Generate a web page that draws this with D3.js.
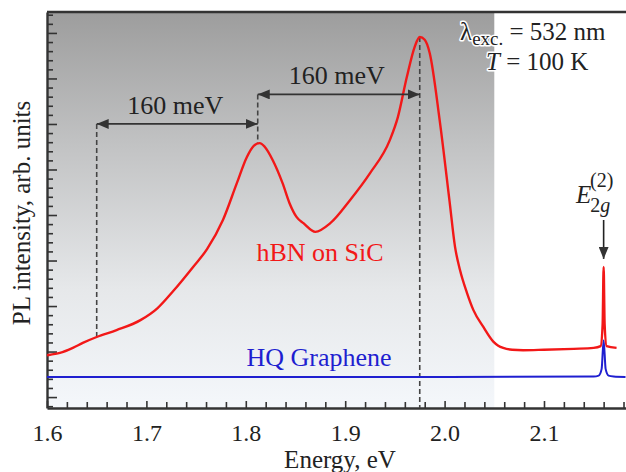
<!DOCTYPE html>
<html>
<head>
<meta charset="utf-8">
<script src="https://cdn.jsdelivr.net/npm/d3@7"></script>
<style>
  body { margin: 0; background: #fff; }
  svg text { font-family: "Liberation Serif", "Times New Roman", "DejaVu Serif", serif; }
</style>
</head>
<body>
<svg id="chart" width="626" height="472" font-family="Liberation Serif, serif"></svg>
<script>
// hBN on SiC PL spectrum (energy eV, intensity arb.)
const hbnEnergy = [1.600, 1.603, 1.613, 1.626, 1.636, 1.650, 1.670, 1.694, 1.711, 1.727,
  1.747, 1.761, 1.777, 1.791, 1.801, 1.808, 1.814, 1.819, 1.827, 1.837, 1.844, 1.851, 1.858,
  1.870, 1.885, 1.905, 1.925, 1.945, 1.953, 1.962, 1.970, 1.975, 1.980, 1.985, 1.995, 2.005,
  2.0105, 2.0155, 2.0225, 2.029, 2.039, 2.049, 2.054, 2.059, 2.068, 2.079, 2.100, 2.130,
  2.150, 2.157, 2.159, 2.160, 2.161, 2.163, 2.173];
const hbnIntensity = [0.92, 0.93, 0.97, 1.08, 1.19, 1.32, 1.47, 1.69, 1.95, 2.33,
  2.86, 3.25, 3.89, 4.70, 5.27, 5.52, 5.58, 5.50, 5.21, 4.70, 4.26, 3.96, 3.82,
  3.63, 3.82, 4.33, 4.92, 5.65, 6.15, 7.03, 7.70, 7.91, 7.85, 7.56, 6.09, 4.30,
  3.30, 2.79, 2.29, 1.91, 1.54, 1.22, 1.13, 1.08, 1.04, 1.03, 1.04, 1.06,
  1.08, 1.12, 1.60, 2.86, 1.60, 1.12, 1.08];

// HQ graphene reference
const grEnergy = [1.600, 1.800, 2.000, 2.150, 2.155, 2.158, 2.160, 2.162, 2.165, 2.170, 2.182];
const grIntensity = [0.44, 0.44, 0.44, 0.45, 0.47, 0.62, 1.25, 0.62, 0.47, 0.45, 0.44];

const xMajorTicks = [1.6, 1.7, 1.8, 1.9, 2.0, 2.1];
const xTickLabels = ['1.6', '1.7', '1.8', '1.9', '2.0', '2.1'];

// arrows: [from, to] energies for the 160 meV spacings
const spacingFrom = [1.650, 1.812];
const spacingTo = [1.812, 1.975];
const spacingLevel = [6.0, 6.65];
const spacingLabel = ['160 meV', '160 meV'];

const shadeEnd = 2.05;
const e2gEnergy = 2.160;

const svg = d3.select('#chart');
const margin = { top: 12, right: 0, bottom: 64, left: 47 };
const W = 626, H = 472;

const x = d3.scaleLinear().domain([1.6, 2.182]).range([margin.left, 625.5]);
const y = d3.scaleLinear().domain([-0.24, 8.46]).range([H - margin.bottom, margin.top]);

const defs = svg.append('defs');
const grad = defs.append('linearGradient')
  .attr('id', 'bg').attr('x1', 0).attr('y1', 0).attr('x2', 0).attr('y2', 1);
grad.append('stop').attr('offset', '0%').attr('stop-color', '#9d9d9d');
grad.append('stop').attr('offset', '35%').attr('stop-color', '#c3c4c5');
grad.append('stop').attr('offset', '70%').attr('stop-color', '#e6e8ea');
grad.append('stop').attr('offset', '100%').attr('stop-color', '#f4f7fb');

svg.append('rect')
  .attr('x', x(1.6)).attr('y', y.range()[1])
  .attr('width', x(shadeEnd) - x(1.6))
  .attr('height', y.range()[0] - y.range()[1])
  .attr('fill', 'url(#bg)');

// axes
const axisColor = '#333';
const xMinor = d3.range(1.6, 2.181, 0.02).filter(v => !xMajorTicks.some(m => Math.abs(m - v) < 1e-6));

const gx = svg.append('g').attr('transform', `translate(0,${y.range()[0]})`);
gx.call(d3.axisBottom(x).tickValues(xMajorTicks)
  .tickFormat((d, i) => xTickLabels[i]).tickSizeInner(-7).tickSizeOuter(0).tickPadding(16));
gx.append('g').call(d3.axisBottom(x).tickValues(xMinor).tickFormat('')
  .tickSizeInner(-6).tickSizeOuter(0))
  .select('.domain').remove();
gx.selectAll('text').attr('font-size', 24).attr('fill', '#222')
  .attr('font-family', 'Liberation Serif, serif');

const yMajor = d3.range(0, 8.5, 1);
const yMinor = d3.range(-0.2, 8.45, 0.2).filter(v => Math.abs(v - Math.round(v)) > 1e-6);
const gy = svg.append('g').attr('transform', `translate(${x(1.6)},0)`);
gy.call(d3.axisLeft(y).tickValues(yMajor).tickFormat('').tickSizeInner(-10).tickSizeOuter(0));
gy.append('g').call(d3.axisLeft(y).tickValues(yMinor).tickFormat('')
  .tickSizeInner(-6).tickSizeOuter(0))
  .select('.domain').remove();

svg.selectAll('.domain, .tick line').attr('stroke', axisColor).attr('stroke-width', 1.6);
gx.select('.domain').attr('stroke-width', 2.4);
gy.select('.domain').attr('stroke-width', 2.4);

svg.append('line')
  .attr('x1', x(1.6)).attr('x2', W)
  .attr('y1', y.range()[1]).attr('y2', y.range()[1])
  .attr('stroke', axisColor).attr('stroke-width', 2.4);

// dashed guides
const dashed = svg.append('g').attr('stroke', '#444').attr('stroke-width', 1.6)
  .attr('stroke-dasharray', '5,3');
dashed.append('line').attr('x1', x(1.650)).attr('x2', x(1.650))
  .attr('y1', y(spacingLevel[0])).attr('y2', y(1.32));
dashed.append('line').attr('x1', x(1.812)).attr('x2', x(1.812))
  .attr('y1', y(spacingLevel[1])).attr('y2', y(5.56));
dashed.append('line').attr('x1', x(1.975)).attr('x2', x(1.975))
  .attr('y1', y(7.91)).attr('y2', y.range()[0]);

// curves
const line = d3.line().curve(d3.curveMonotoneX)
  .x(d => x(d[0])).y(d => y(d[1]));

svg.append('path')
  .datum(grEnergy.map((e, i) => [e, grIntensity[i]]))
  .attr('fill', 'none').attr('stroke', '#1f1fd0').attr('stroke-width', 2)
  .attr('d', line);

svg.append('path')
  .datum(hbnEnergy.map((e, i) => [e, hbnIntensity[i]]))
  .attr('fill', 'none').attr('stroke', '#f21818').attr('stroke-width', 2.4)
  .attr('stroke-linejoin', 'round')
  .attr('d', line);

// spacing arrows
defs.append('marker').attr('id', 'ah')
  .attr('viewBox', '0 0 12 10').attr('refX', 12).attr('refY', 5)
  .attr('markerWidth', 12).attr('markerHeight', 10)
  .attr('markerUnits', 'userSpaceOnUse').attr('orient', 'auto-start-reverse')
  .append('path').attr('d', 'M0,0 L12,5 L0,10 Z').attr('fill', '#333');

spacingFrom.forEach((f, i) => {
  svg.append('line')
    .attr('x1', x(f)).attr('x2', x(spacingTo[i]))
    .attr('y1', y(spacingLevel[i])).attr('y2', y(spacingLevel[i]))
    .attr('stroke', '#333').attr('stroke-width', 1.8)
    .attr('marker-start', 'url(#ah)').attr('marker-end', 'url(#ah)');
  svg.append('text')
    .attr('x', (x(f) + x(spacingTo[i])) / 2 - 2)
    .attr('y', y(spacingLevel[i]) - 10)
    .attr('text-anchor', 'middle').attr('font-size', 26).attr('fill', '#222')
    .text(spacingLabel[i]);
});

// E2g arrow
svg.append('line')
  .attr('x1', x(e2gEnergy)).attr('x2', x(e2gEnergy))
  .attr('y1', 220).attr('y2', y(2.86) - 8)
  .attr('stroke', '#222').attr('stroke-width', 1.6)
  .attr('marker-end', 'url(#ah)');

const e2g = svg.append('text').attr('x', 576).attr('y', 203)
  .attr('font-size', 25).attr('fill', '#222');
e2g.append('tspan').attr('font-style', 'italic').text('E');
e2g.append('tspan').attr('font-size', 20).attr('dy', 9).attr('dx', -1).text('2');
e2g.append('tspan').attr('font-size', 20).attr('font-style', 'italic').text('g');
svg.append('text').attr('x', 590).attr('y', 187)
  .attr('font-size', 20).attr('fill', '#222').text('(2)');

// conditions
const halo = t => t.attr('stroke', '#fff').attr('stroke-width', 3)
  .attr('paint-order', 'stroke').attr('stroke-linejoin', 'round');

const lam = svg.append('text').attr('x', 460).attr('y', 40)
  .attr('font-size', 25).attr('fill', '#222');
halo(lam);
lam.append('tspan').text('λ');
lam.append('tspan').attr('font-size', 19).attr('dy', 5).text('exc.');
lam.append('tspan').attr('dy', -5).text(' = 532 nm');

const temp = svg.append('text').attr('x', 486).attr('y', 70)
  .attr('font-size', 25).attr('fill', '#222');
halo(temp);
temp.append('tspan').attr('font-style', 'italic').text('T');
temp.append('tspan').text(' = 100 K');

// series labels
svg.append('text').attr('x', 320).attr('y', 261)
  .attr('text-anchor', 'middle').attr('font-size', 26).attr('fill', '#f21818')
  .text('hBN on SiC');
svg.append('text').attr('x', 319).attr('y', 366)
  .attr('text-anchor', 'middle').attr('font-size', 26).attr('fill', '#1f1fd0')
  .text('HQ Graphene');

// axis titles
svg.append('text').attr('x', 340).attr('y', 468)
  .attr('text-anchor', 'middle').attr('font-size', 25).attr('fill', '#222')
  .text('Energy, eV');
svg.append('text')
  .attr('transform', `translate(30,${213}) rotate(-90)`)
  .attr('text-anchor', 'middle').attr('font-size', 25).attr('fill', '#222')
  .text('PL intensity, arb. units');
</script>
</body>
</html>
